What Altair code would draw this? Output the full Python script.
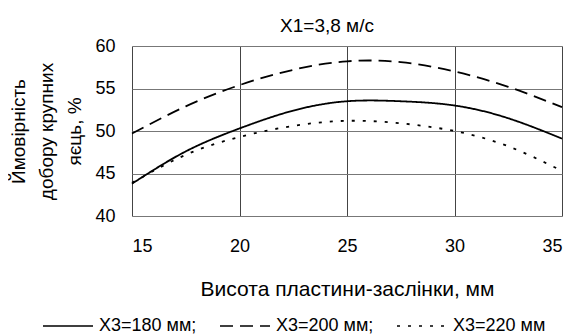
import altair as alt
import pandas as pd

heights = [15, 17.5, 20, 22.5, 25, 27.5, 30, 32.5, 35]
x3_180 = [43.8, 47.6, 50.3, 52.4, 53.5, 53.5, 53.0, 51.5, 49.1]
x3_200 = [49.7, 52.9, 55.4, 57.2, 58.2, 58.1, 57.0, 55.2, 52.8]
x3_220 = [43.9, 47.2, 49.3, 50.6, 51.2, 50.9, 50.0, 48.2, 45.3]
series = ["X3=180 мм;", "X3=200 мм;", "X3=220 мм"]

rows = []
for name, vals in zip(series, [x3_180, x3_200, x3_220]):
    for h, v in zip(heights, vals):
        rows.append({"h": h, "p": v, "s": name})
df = pd.DataFrame(rows)

font = "Liberation Sans"
ax = dict(labelFont=font, labelFontSize=18, labelColor="black",
          titleFont=font, titleColor="black", titleFontWeight="normal",
          tickSize=0, domain=False, gridWidth=1)

chart = alt.Chart(df).mark_line(color="black", strokeWidth=1.8, interpolate="natural").encode(
    x=alt.X("h:Q", scale=alt.Scale(domain=[15, 35], nice=False),
            axis=alt.Axis(values=[15, 20, 25, 30, 35], title="Висота пластини-заслінки, мм",
                          titleFontSize=21, titlePadding=23, labelPadding=21,
                          gridColor="#444", **ax)),
    y=alt.Y("p:Q", scale=alt.Scale(domain=[40, 60], nice=False),
            axis=alt.Axis(values=[40, 45, 50, 55, 60], title=["Ймовірність", "добору крупних", "яєць, %"],
                          titleFontSize=19, titleLineHeight=28, titlePadding=10, labelPadding=17,
                          gridColor="#777", **ax)),
    strokeDash=alt.StrokeDash("s:N", scale=alt.Scale(domain=series, range=[[1, 0], [13, 7], [3, 8]]),
                              legend=alt.Legend(title=None, orient="none", direction="horizontal",
                                                legendX=-90, legendY=254, symbolType="stroke",
                                                symbolSize=2500, symbolStrokeColor="black",
                                                symbolStrokeWidth=1.5, columnPadding=20, labelOffset=5,
                                                labelFontSize=18, labelFont=font, labelColor="black",
                                                labelLimit=300)),
).properties(
    width=430, height=170,
    title=alt.TitleParams("X1=3,8 м/с", fontSize=19, font=font, fontWeight="normal", offset=1, dx=-20),
    autosize=alt.AutoSizeParams(type="none"),
    padding={"left": 124, "top": 38, "right": 5, "bottom": 120},
).configure_view(stroke="black", strokeWidth=1.2).configure(background="white")

chart.save("out.html", embed_options={"renderer": "svg", "actions": False})
